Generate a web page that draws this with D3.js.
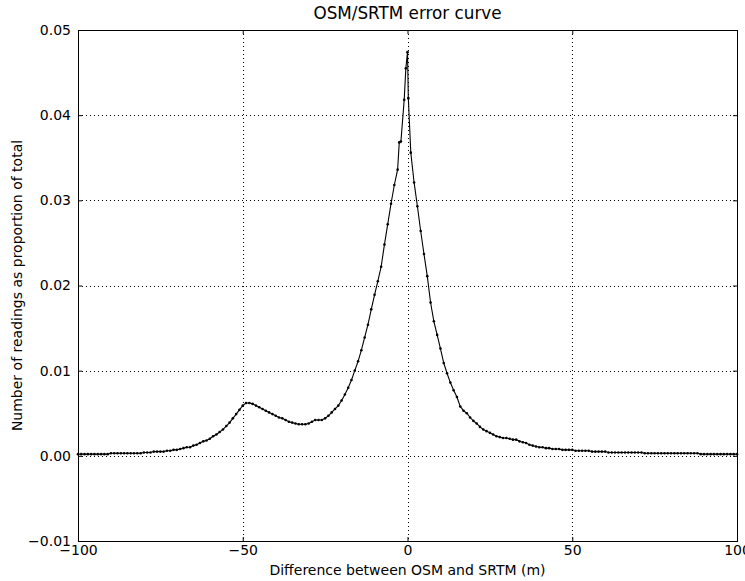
<!DOCTYPE html>
<html><head><meta charset="utf-8">
<script src="https://cdn.jsdelivr.net/npm/d3@7/dist/d3.min.js"></script>
<style>
body{margin:0;background:#fff}
svg{display:block}
text{font-family:"DejaVu Sans",sans-serif;fill:#000}
</style>
</head><body>
<div id="chart"></div>
<script>
// ---- data ----
const leftDiffs = d3.range(-100, -2);           // -100 .. -3 (1 m bins)
const leftValues = [
  0.0002,0.0002,0.0002,0.0002,0.0002,0.0002,0.0002,0.0002,0.0002,0.0002,
  0.0003,0.0003,0.0003,0.0003,0.0003,0.0003,0.0003,0.0003,0.0003,0.0003,
  0.0004,0.0004,0.0004,0.0005,0.0005,0.0005,0.0005,0.0006,0.0006,0.0007,
  0.0007,0.0008,0.0009,0.0010,0.0010,0.0012,0.0013,0.0015,0.0017,0.0018,
  0.0020,0.0023,0.0025,0.0028,0.0031,0.0035,0.0039,0.0044,0.0049,0.0054,
  0.0059,0.0062,0.0062,0.0061,0.0059,0.0057,0.0055,0.0053,0.0051,0.0049,
  0.0047,0.0045,0.0044,0.0042,0.0040,0.0039,0.0038,0.0037,0.0037,0.0037,
  0.0038,0.0040,0.0042,0.0042,0.0042,0.0044,0.0047,0.0051,0.0055,0.0059,
  0.0065,0.0072,0.0080,0.0089,0.0100,0.0111,0.0124,0.0139,0.0154,0.0172,
  0.0189,0.0205,0.0222,0.0248,0.0272,0.0296,0.0318,0.0336
];
const peakDiffs  = [-2.5, -2, -1, -0.5, 0, 0.25, 1];
const peakValues = [0.0368, 0.0369, 0.0418, 0.0455, 0.0474, 0.0420, 0.0356];
const rightDiffs = d3.range(2, 101);            // 2 .. 100
const rightValues = [
  0.0321,0.0293,0.0264,0.0237,0.0211,0.0180,0.0158,0.0142,0.0126,0.0109,
  0.0097,0.0086,0.0077,0.0069,0.0058,0.0053,0.0050,0.0045,0.0041,0.0038,
  0.0034,0.0031,0.0029,0.0027,0.0025,0.0023,0.0022,0.0021,0.0021,0.0020,
  0.0019,0.0019,0.0017,0.0016,0.0015,0.0013,0.0012,0.0011,0.0010,0.0010,
  0.0009,0.0009,0.0008,0.0008,0.0008,0.0007,0.0007,0.0007,0.0007,0.0006,
  0.0006,0.0006,0.0006,0.0006,0.0005,0.0005,0.0005,0.0005,0.0005,0.0004,
  0.0004,0.0004,0.0004,0.0004,0.0004,0.0004,0.0004,0.0004,0.0004,0.0004,
  0.0003,0.0003,0.0003,0.0003,0.0003,0.0003,0.0003,0.0003,0.0003,0.0003,
  0.0003,0.0003,0.0003,0.0003,0.0003,0.0003,0.0003,0.0002,0.0002,0.0002,
  0.0002,0.0002,0.0002,0.0002,0.0002,0.0002,0.0002,0.0002,0.0002
];
const xTicks = [-100, -50, 0, 50, 100];
const yTicks = [-0.01, 0, 0.01, 0.02, 0.03, 0.04, 0.05];
const titleText = "OSM/SRTM error curve";
const xLabel = "Difference between OSM and SRTM (m)";
const yLabel = "Number of readings as proportion of total";

// ---- build points ----
const points = [];
leftDiffs.forEach((d, i) => points.push({x: d, y: leftValues[i]}));
peakDiffs.forEach((d, i) => points.push({x: d, y: peakValues[i]}));
rightDiffs.forEach((d, i) => points.push({x: d, y: rightValues[i]}));

// ---- layout ----
const W = 745, H = 581;
const m = {left: 78, right: 8, top: 30, bottom: 40};
const iw = W - m.left - m.right, ih = H - m.top - m.bottom;

const svg = d3.select("#chart").append("svg").attr("width", W).attr("height", H);
const g = svg.append("g").attr("transform", `translate(${m.left},${m.top})`);

const x = d3.scaleLinear().domain([-100, 100]).range([0, iw]);
const y = d3.scaleLinear().domain([-0.01, 0.05]).range([ih, 0]);

// grid
g.append("g").selectAll("line").data(xTicks).join("line")
  .attr("x1", d => Math.round(x(d)) + 0.5).attr("x2", d => Math.round(x(d)) + 0.5)
  .attr("y1", 0).attr("y2", ih)
  .attr("stroke", "#000").attr("stroke-width", 1).attr("stroke-dasharray", "1,3");
g.append("g").selectAll("line").data(yTicks).join("line")
  .attr("y1", d => Math.round(y(d)) + 0.5).attr("y2", d => Math.round(y(d)) + 0.5)
  .attr("x1", 0).attr("x2", iw)
  .attr("stroke", "#000").attr("stroke-width", 1).attr("stroke-dasharray", "1,3");

// line + markers
const line = d3.line().x(d => x(d.x)).y(d => y(d.y));
g.append("path").datum(points).attr("d", line)
  .attr("fill", "none").attr("stroke", "#000").attr("stroke-width", 1.1);
g.append("g").selectAll("circle").data(points).join("circle")
  .attr("cx", d => x(d.x)).attr("cy", d => y(d.y)).attr("r", 1.3).attr("fill", "#000");

// axes (ticks inward on all sides)
const fmtY = d3.format(".2f");
const fmtX = d3.format("d");
const axB = g.append("g").attr("transform", `translate(0,${ih})`)
  .call(d3.axisBottom(x).tickValues(xTicks).tickFormat(fmtX).tickSizeInner(-4).tickSizeOuter(0).tickPadding(4));
const axT = g.append("g")
  .call(d3.axisTop(x).tickValues(xTicks).tickFormat("").tickSizeInner(-4).tickSizeOuter(0));
const axL = g.append("g")
  .call(d3.axisLeft(y).tickValues(yTicks).tickFormat(fmtY).tickSizeInner(-4).tickSizeOuter(0).tickPadding(7));
const axR = g.append("g").attr("transform", `translate(${iw},0)`)
  .call(d3.axisRight(y).tickValues(yTicks).tickFormat("").tickSizeInner(-4).tickSizeOuter(0));
[axB, axT, axL, axR].forEach(a => {
  a.select(".domain").remove();
  a.selectAll("text").attr("font-size", 14).attr("font-family", "DejaVu Sans").attr("fill", "#000");
  a.selectAll("line").attr("stroke", "#000");
});

// frame
g.append("rect").attr("x", 0.5).attr("y", 0.5).attr("width", iw).attr("height", ih)
  .attr("fill", "none").attr("stroke", "#000").attr("stroke-width", 1);

// texts
svg.append("text").attr("x", m.left + iw / 2).attr("y", 19).attr("text-anchor", "middle")
  .attr("font-size", 16.8).text(titleText);
svg.append("text").attr("x", m.left + iw / 2).attr("y", 575).attr("text-anchor", "middle")
  .attr("font-size", 14).text(xLabel);
svg.append("text").attr("transform", `translate(22,${m.top + ih / 2}) rotate(-90)`)
  .attr("text-anchor", "middle").attr("font-size", 14).text(yLabel);
</script>
</body></html>
